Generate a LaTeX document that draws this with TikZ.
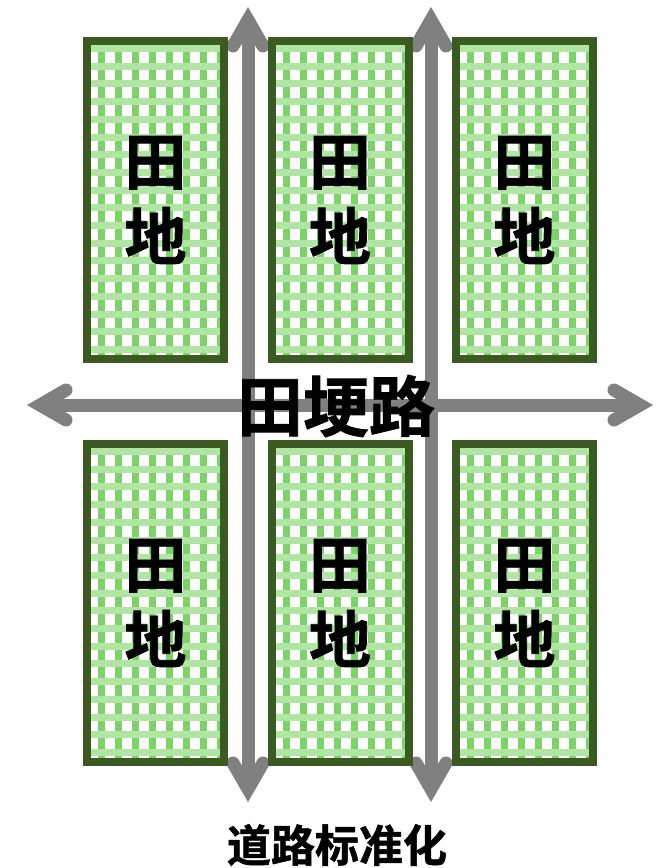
\documentclass[tikz,border=0pt]{standalone}
\usepackage{fontspec}
\newfontfamily\cjkbold{Noto Sans CJK SC Bold}[FakeBold=1.2]
\usetikzlibrary{calc}
\definecolor{roadGray}{HTML}{808080}
\definecolor{plotBorder}{HTML}{3A5A22}
\definecolor{plotGreen}{HTML}{7CD468}

\tikzset{
  road/.style={draw=roadGray, line width=13pt},
  roadhead/.pic={\draw[road, line cap=round, line join=miter] (-26,15) -- (0,0) -- (-26,-15);},
  plot/.style={draw=plotBorder, fill=white, line width=8pt, minimum width=137pt,
    minimum height=318pt, inner sep=0pt, align=center,
    font=\cjkbold\fontsize{62}{75}\selectfont,
    path picture={
      \coordinate (pnw) at (path picture bounding box.north west);
      \foreach \i in {0,...,8}
        \fill[plotGreen] ($(pnw)+(\i*17+11,0)$) rectangle ++(7,330);
      \foreach \j in {0,...,18}
        \fill[plotGreen!60!white] ($(pnw)+(0,\j*17.7+4)$) rectangle ++(150,7);
    }}
}

\begin{document}
\begin{tikzpicture}[x=1pt, y=-1pt]
  \useasboundingbox (0,0) rectangle (658,868);

  % roads
  \coordinate (vAtop) at (248,20);
  \coordinate (vAbot) at (248,789);
  \coordinate (vBtop) at (431,20);
  \coordinate (vBbot) at (431,789);
  \coordinate (hLeft) at (40,405);
  \coordinate (hRight) at (640,405);
  \draw[road] (vAtop) -- (vAbot);
  \draw[road] (vBtop) -- (vBbot);
  \draw[road] (hLeft) -- (hRight);
  \pic[rotate=90] at (vAtop) {roadhead};
  \pic[rotate=-90] at (vAbot) {roadhead};
  \pic[rotate=90] at (vBtop) {roadhead};
  \pic[rotate=-90] at (vBbot) {roadhead};
  \pic[rotate=180] at (hLeft) {roadhead};
  \pic at (hRight) {roadhead};

  % fields
  \node[plot] (plotTL) at (155.5,200) {田\\地};
  \node[plot] (plotTM) at (340,200) {田\\地};
  \node[plot] (plotTR) at (524.5,200) {田\\地};
  \node[plot] (plotBL) at (155.5,603) {田\\地};
  \node[plot] (plotBM) at (340,603) {田\\地};
  \node[plot] (plotBR) at (524.5,603) {田\\地};

  % labels
  \node[font=\cjkbold\fontsize{66}{66}\selectfont] (pathLabel) at (336,406) {田埂路};
  \node[font=\cjkbold\fontsize{44}{44}\selectfont] (caption) at (337,845) {道路标准化};
\end{tikzpicture}
\end{document}
